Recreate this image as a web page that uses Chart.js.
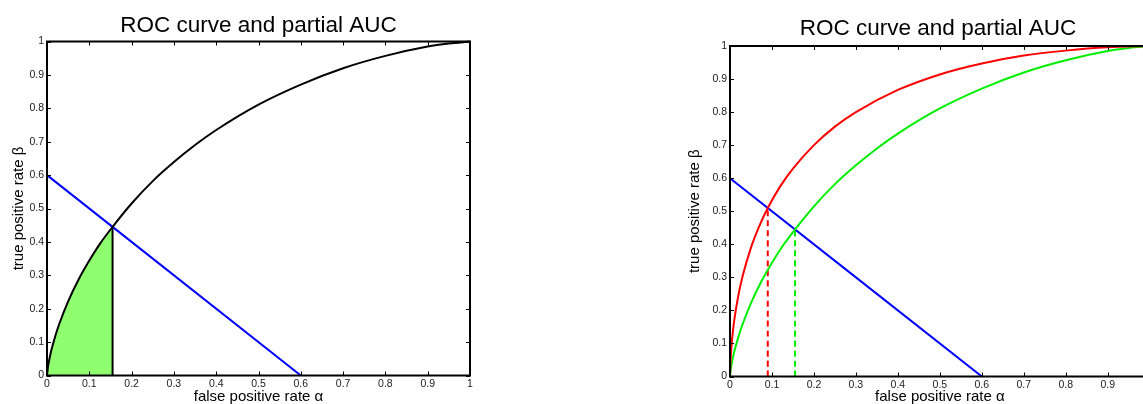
<!DOCTYPE html>
<html>
<head>
<meta charset="utf-8">
<script src="https://cdn.jsdelivr.net/npm/chart.js@4.4.1/dist/chart.umd.min.js"></script>
<style>
  html, body { margin: 0; padding: 0; background: #fff; }
  body { width: 1143px; height: 404px; overflow: hidden; position: relative; }
  canvas { position: absolute; top: 0; }
</style>
</head>
<body>
<canvas id="leftChart" width="517" height="404" style="left:0px"></canvas>
<canvas id="rightChart" width="510" height="404" style="left:683px"></canvas>
<script>
// values
const tickValues = [0, 0.1, 0.2, 0.3, 0.4, 0.5, 0.6, 0.7, 0.8, 0.9, 1];
const tickLabels = ['0', '0.1', '0.2', '0.3', '0.4', '0.5', '0.6', '0.7', '0.8', '0.9', '1'];

// black ROC curve (left) / green curve (right)
const rocAlpha = [0, 0.002, 0.005, 0.01, 0.02, 0.03, 0.05, 0.075, 0.1, 0.125, 0.155, 0.2, 0.25, 0.3, 0.35, 0.4, 0.5, 0.6, 0.7, 0.8, 0.9, 0.95, 1];
const rocBeta = [0, 0.023, 0.045, 0.074, 0.12, 0.158, 0.222, 0.288, 0.344, 0.394, 0.445, 0.515, 0.582, 0.639, 0.69, 0.735, 0.811, 0.871, 0.92, 0.957, 0.985, 0.994, 1];

// red curve (right)
const redAlpha = [0, 0.0005, 0.002, 0.005, 0.01, 0.02, 0.03, 0.05, 0.07, 0.09, 0.12, 0.15, 0.2, 0.25, 0.3, 0.4, 0.5, 0.6, 0.7, 0.8, 0.9, 1];
const redBeta = [0, 0.027, 0.065, 0.113, 0.169, 0.246, 0.303, 0.39, 0.456, 0.51, 0.576, 0.629, 0.7, 0.756, 0.8, 0.867, 0.914, 0.947, 0.971, 0.986, 0.996, 1];

// blue constraint line
const blueAlpha = [0, 0.6];
const blueBeta = [0.6, 0];

// cut points (alpha, beta)
const greenCut = [0.155, 0.445];
const redCut = [0.09, 0.51];

const FONT = "'Liberation Sans', Arial, Helvetica, sans-serif";

function pts(xs, ys) {
    return xs.map((x, i) => ({ x: x, y: ys[i] }));
}

// MATLAB style box with inward ticks on all sides
const boxPlugin = {
    id: 'boxTicks',
    afterDatasetsDraw(chart) {
        const ctx = chart.ctx;
        const a = chart.chartArea;
        const xs = chart.scales.x, ys = chart.scales.y;
        ctx.save();
        ctx.strokeStyle = '#000';
        ctx.lineWidth = 1;
        ctx.beginPath();
        xs.ticks.forEach(t => {
            const px = Math.round(xs.getPixelForValue(t.value)) + 0.5;
            ctx.moveTo(px, a.bottom); ctx.lineTo(px, a.bottom - 4);
            ctx.moveTo(px, a.top); ctx.lineTo(px, a.top + 4);
        });
        ys.ticks.forEach(t => {
            const py = Math.round(ys.getPixelForValue(t.value)) + 0.5;
            ctx.moveTo(a.left, py); ctx.lineTo(a.left + 4, py);
            ctx.moveTo(a.right, py); ctx.lineTo(a.right - 4, py);
        });
        ctx.stroke();
        ctx.lineWidth = 2;
        ctx.strokeRect(a.left, a.top, a.right - a.left, a.bottom - a.top);
        ctx.restore();
    }
};

function makeOptions(cfg) {
    return {
        responsive: false,
        animation: false,
        devicePixelRatio: 1,
        layout: { padding: 0 },
        plugins: {
            legend: { display: false },
            tooltip: { enabled: false },
            title: {
                display: true,
                text: 'ROC curve and partial AUC',
                color: '#000',
                font: { family: FONT, size: 22.5, weight: 'normal', lineHeight: 1.2 },
                padding: { top: cfg.titleTop, bottom: cfg.titleBottom }
            }
        },
        scales: {
            x: {
                type: 'linear',
                min: 0,
                max: 1,
                afterBuildTicks: s => { s.ticks = tickValues.map(v => ({ value: v })); },
                afterFit: s => { s.height = cfg.xHeight; },
                ticks: {
                    autoSkip: false,
                    maxRotation: 0,
                    padding: 2,
                    color: '#222',
                    font: { family: FONT, size: 10.5 },
                    callback: (v, i) => tickLabels[i]
                },
                grid: { display: false, drawTicks: false },
                border: { display: false },
                title: {
                    display: true,
                    text: 'false positive rate α',
                    color: '#000',
                    font: { family: FONT, size: 15, lineHeight: 1 },
                    padding: { top: 0, bottom: 0 }
                }
            },
            y: {
                type: 'linear',
                min: 0,
                max: 1,
                afterBuildTicks: s => { s.ticks = tickValues.map(v => ({ value: v })); },
                afterFit: s => { s.width = 47; },
                ticks: {
                    autoSkip: false,
                    padding: 3,
                    color: '#222',
                    font: { family: FONT, size: 10.5 },
                    callback: (v, i) => tickLabels[i]
                },
                grid: { display: false, drawTicks: false },
                border: { display: false },
                title: {
                    display: true,
                    text: 'true positive rate β',
                    color: '#000',
                    font: { family: FONT, size: 15, lineHeight: 1 },
                    padding: { top: cfg.yTitlePad, bottom: 0 }
                }
            },
            // empty right-hand space so the title stays centred on the canvas
            yRight: {
                type: 'linear',
                position: 'right',
                min: 0,
                max: 1,
                afterFit: s => { s.width = cfg.padRight; },
                ticks: { display: false },
                grid: { display: false, drawTicks: false },
                border: { display: false }
            }
        }
    };
}

function lineSet(data, color, order, extra) {
    return Object.assign({
        type: 'scatter',
        data: data,
        showLine: true,
        borderColor: color,
        borderWidth: 2,
        pointRadius: 0,
        fill: false,
        cubicInterpolationMode: 'monotone',
        clip: 3,
        order: order
    }, extra || {});
}

// left chart
const fillAlpha = rocAlpha.filter(a => a <= greenCut[0]);
const fillBeta = rocBeta.slice(0, fillAlpha.length);

new Chart(document.getElementById('leftChart'), {
    type: 'scatter',
    data: {
        datasets: [
            lineSet(pts(rocAlpha, rocBeta), '#000', 1),
            lineSet(pts(blueAlpha, blueBeta), '#0000ff', 2),
            lineSet(pts([greenCut[0], greenCut[0]], [0, greenCut[1]]), '#000', 3),
            lineSet(pts(fillAlpha, fillBeta), 'rgba(0,0,0,0)', 9, {
                borderWidth: 0,
                fill: 'origin',
                backgroundColor: '#8fff6f'
            })
        ]
    },
    options: makeOptions({ padRight: 47, titleTop: 11.8, titleBottom: 2.7, xHeight: 28.5, yTitlePad: 11 }),
    plugins: [boxPlugin]
});

// right chart
new Chart(document.getElementById('rightChart'), {
    type: 'scatter',
    data: {
        datasets: [
            lineSet(pts(redAlpha, redBeta), '#ff0000', 1),
            lineSet(pts(rocAlpha, rocBeta), '#00ee00', 2),
            lineSet(pts(blueAlpha, blueBeta), '#0000ff', 3),
            lineSet(pts([redCut[0], redCut[0]], [0, redCut[1]]), '#ff0000', 4, { borderDash: [6, 4] }),
            lineSet(pts([greenCut[0], greenCut[0]], [0, greenCut[1]]), '#00ee00', 5, { borderDash: [6, 4] })
        ]
    },
    options: makeOptions({ padRight: 43.3, titleTop: 15.5, titleBottom: 3.5, xHeight: 27.5, yTitlePad: 4.5 }),
    plugins: [boxPlugin]
});
</script>
</body>
</html>
